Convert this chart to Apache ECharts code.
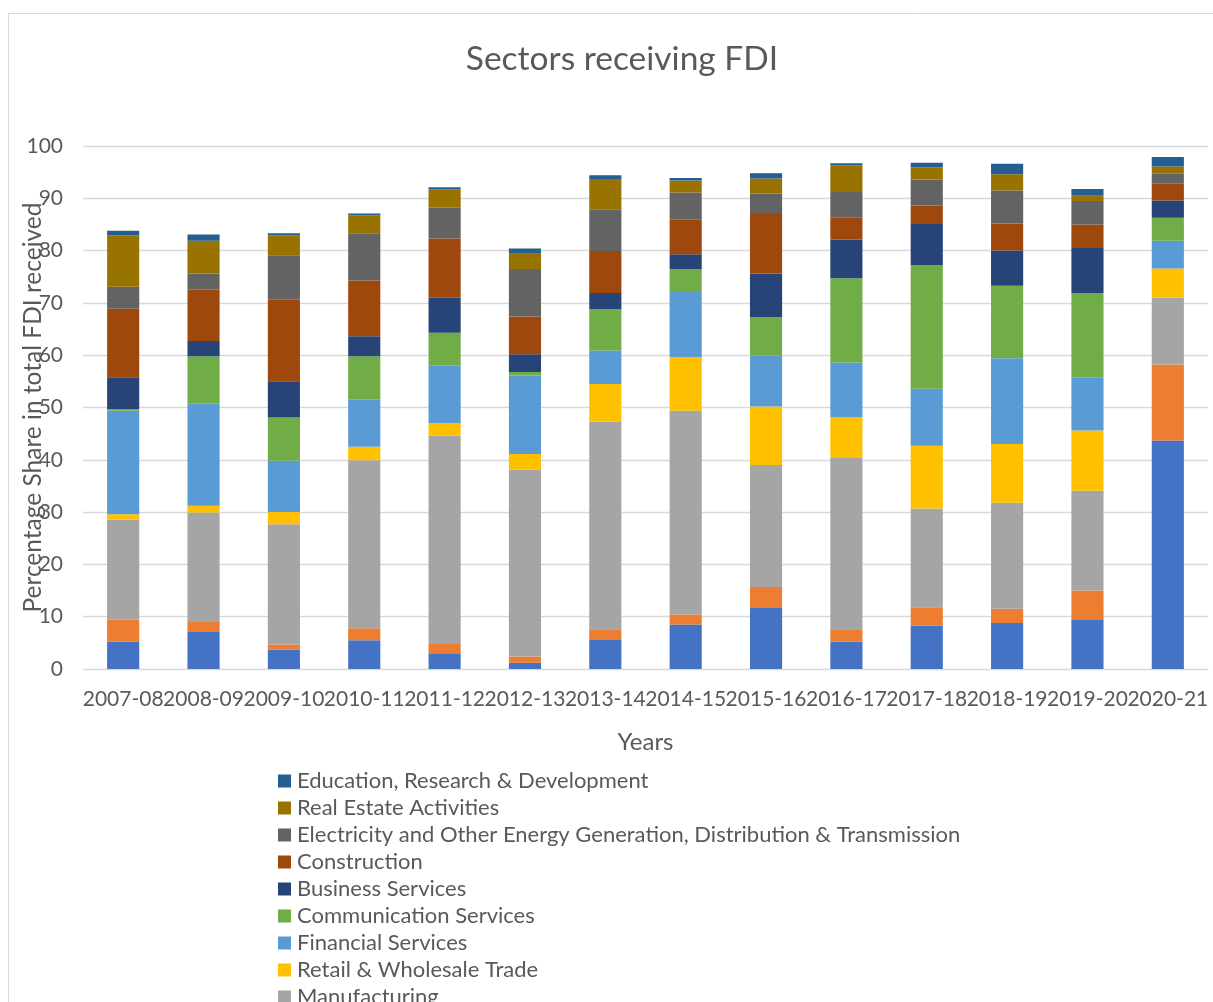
<!DOCTYPE html>
<html>
<head>
<meta charset="utf-8">
<title>Sectors receiving FDI</title>
<script src="https://cdn.jsdelivr.net/npm/echarts@6/dist/echarts.min.js"></script>
<style>
  html, body { margin: 0; padding: 0; background: #ffffff; }
  #chart { width: 1213px; height: 1002px; }
</style>
</head>
<body>
<div id="chart"></div>
<script>
// Fiscal years on the category axis
const years = ['2007-08', '2008-09', '2009-10', '2010-11', '2011-12', '2012-13', '2013-14',
  '2014-15', '2015-16', '2016-17', '2017-18', '2018-19', '2019-20', '2020-21'];

// Percentage share of total FDI received, per sector (stacked bottom to top)
const computerSoftware = [5.2, 7.2, 3.7, 5.5, 3.0, 1.2, 5.7, 8.5, 11.8, 5.2, 8.3, 8.8, 9.5, 43.7];
const infrastructure   = [4.2, 1.8, 1.0, 2.3, 1.8, 1.2, 1.9, 1.9, 3.9, 2.4, 3.5, 2.7, 5.5, 14.5];
const manufacturing    = [19.2, 20.9, 23.0, 32.1, 39.8, 35.7, 39.7, 39.0, 23.3, 32.9, 18.9, 20.3, 19.1, 12.8];
const retailTrade      = [1.0, 1.3, 2.3, 2.6, 2.4, 3.0, 7.2, 10.2, 11.2, 7.7, 12.0, 11.2, 11.5, 5.6];
const financial        = [19.8, 19.6, 9.8, 9.1, 11.1, 15.0, 6.4, 12.5, 9.8, 10.4, 10.9, 16.4, 10.2, 5.3];
const communication    = [0.3, 9.0, 8.3, 8.2, 6.2, 0.7, 7.9, 4.4, 7.3, 16.1, 23.6, 13.9, 16.1, 4.4];
const business         = [6.1, 2.9, 6.9, 3.8, 6.7, 3.4, 3.1, 2.8, 8.3, 7.4, 7.9, 6.7, 8.6, 3.3];
const construction     = [13.1, 9.8, 15.7, 10.7, 11.3, 7.2, 8.0, 6.6, 11.6, 4.3, 3.5, 5.2, 4.5, 3.2];
const electricity      = [4.2, 3.1, 8.4, 9.0, 5.9, 9.1, 8.0, 5.2, 3.7, 4.8, 5.0, 6.3, 4.5, 1.9];
const realEstate       = [9.8, 6.3, 3.8, 3.4, 3.5, 2.9, 5.8, 2.3, 2.9, 5.1, 2.3, 3.1, 1.0, 1.4];
const education        = [0.9, 1.2, 0.4, 0.4, 0.4, 1.0, 0.7, 0.5, 1.0, 0.4, 0.9, 2.0, 1.3, 1.8];

const yTicks = [0, 10, 20, 30, 40, 50, 60, 70, 80, 90, 100];

const sectors = [
  { name: 'Computer Software & Hardware', data: computerSoftware, color: '#4472C4' },
  { name: 'Infrastructure Activities', data: infrastructure, color: '#ED7D31' },
  { name: 'Manufacturing', data: manufacturing, color: '#A5A5A5' },
  { name: 'Retail & Wholesale Trade', data: retailTrade, color: '#FFC000' },
  { name: 'Financial Services', data: financial, color: '#5B9BD5' },
  { name: 'Communication Services', data: communication, color: '#70AD47' },
  { name: 'Business Services', data: business, color: '#264478' },
  { name: 'Construction', data: construction, color: '#9E480E' },
  { name: 'Electricity and Other Energy Generation, Distribution & Transmission', data: electricity, color: '#636363' },
  { name: 'Real Estate Activities', data: realEstate, color: '#997300' },
  { name: 'Education, Research & Development', data: education, color: '#255E91' }
];

const FONT = 'Lato, "Liberation Sans", sans-serif';
const TEXT = '#595959';

const chart = echarts.init(document.getElementById('chart'), null, { renderer: 'canvas' });

chart.setOption({
  animation: false,
  backgroundColor: '#ffffff',
  textStyle: { fontFamily: FONT, color: TEXT },
  graphic: [{
    type: 'rect',
    shape: { x: 8.5, y: 13.5, width: 1300, height: 1100 },
    style: { fill: 'none', stroke: '#d9d9d9', lineWidth: 1 },
    silent: true,
    z: -10
  }],
  title: {
    text: 'Sectors receiving FDI',
    left: 617,
    textAlign: 'center',
    top: 37,
    textStyle: { fontFamily: FONT, fontSize: 33.5, fontWeight: 'normal', color: TEXT }
  },
  legend: {
    orient: 'vertical',
    left: 273,
    top: 765,
    height: 600,
    itemWidth: 13,
    itemHeight: 13,
    itemGap: 5,
    icon: 'rect',
    data: sectors.map(s => s.name).reverse(),
    textStyle: { fontFamily: FONT, fontSize: 22, color: TEXT, lineHeight: 22, padding: [0, 0, 0, 1] }
  },
  grid: { left: 83, right: 5, top: 146, bottom: 333, containLabel: false, outerBoundsMode: 'none' },
  xAxis: {
    type: 'category',
    data: years,
    name: 'Years',
    nameLocation: 'middle',
    nameGap: 61,
    nameTextStyle: { fontFamily: FONT, fontSize: 24, color: TEXT },
    axisLine: { lineStyle: { color: '#d9d9d9', width: 1 } },
    axisTick: { show: false },
    axisLabel: { interval: 0, fontFamily: FONT, fontSize: 21, color: TEXT, margin: 20 }
  },
  yAxis: {
    type: 'value',
    min: yTicks[0],
    max: yTicks[yTicks.length - 1],
    interval: yTicks[1] - yTicks[0],
    name: 'Percentage Share in total FDI received',
    nameLocation: 'middle',
    nameGap: 37,
    nameMoveOverlap: false,
    nameTextStyle: { fontFamily: FONT, fontSize: 24.5, color: TEXT },
    axisLine: { show: false },
    axisTick: { show: false },
    splitLine: { lineStyle: { color: '#d9d9d9', width: 1.3 } },
    axisLabel: { fontFamily: FONT, fontSize: 21, color: TEXT, margin: 20 }
  },
  series: sectors.map(s => ({
    name: s.name,
    type: 'bar',
    stack: 'total',
    barWidth: '40%',
    data: s.data,
    itemStyle: { color: s.color }
  }))
});
</script>
</body>
</html>
